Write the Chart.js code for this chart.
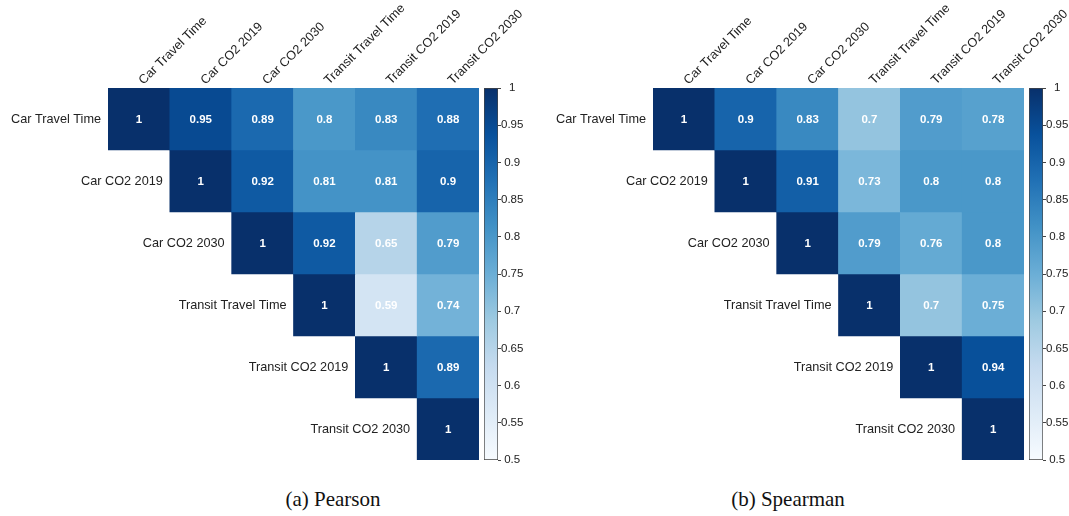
<!DOCTYPE html>
<html>
<head>
<meta charset="utf-8">
<script src="https://cdn.jsdelivr.net/npm/chart.js@4.4.1/dist/chart.umd.min.js"></script>
<style>
  body { margin: 0; background: #fff; }
  #page { position: relative; width: 1069px; height: 516px; overflow: hidden; }
  canvas { position: absolute; top: 0; }
  .caption {
    position: absolute; top: 487px; width: 200px; margin-left: -100px;
    text-align: center; font-family: "Liberation Serif", serif; font-size: 21px;
    line-height: 24px; color: #111;
  }
</style>
</head>
<body>
<div id="page">
  <canvas id="heat-a" width="540" height="470" style="left:0px"></canvas>
  <canvas id="bar-a" width="70" height="470" style="left:480px"></canvas>
  <canvas id="heat-b" width="540" height="470" style="left:545px"></canvas>
  <canvas id="bar-b" width="70" height="470" style="left:1025px"></canvas>
  <div class="caption" style="left:333px">(a) Pearson</div>
  <div class="caption" style="left:788px">(b) Spearman</div>
</div>
<script>
// variables (columns and rows)
const variables = ['Car Travel Time', 'Car CO2 2019', 'Car CO2 2030',
                   'Transit Travel Time', 'Transit CO2 2019', 'Transit CO2 2030'];

// upper triangle, row by row, starting at the diagonal
const pearson = [
    [1, 0.95, 0.89, 0.8, 0.83, 0.88],
    [1, 0.92, 0.81, 0.81, 0.9],
    [1, 0.92, 0.65, 0.79],
    [1, 0.59, 0.74],
    [1, 0.89],
    [1]
];

const spearman = [
    [1, 0.9, 0.83, 0.7, 0.79, 0.78],
    [1, 0.91, 0.73, 0.8, 0.8],
    [1, 0.79, 0.76, 0.8],
    [1, 0.7, 0.75],
    [1, 0.94],
    [1]
];

const colorTicks = [0.5, 0.55, 0.6, 0.65, 0.7, 0.75, 0.8, 0.85, 0.9, 0.95, 1];
const colorMin = 0.5;
const colorMax = 1;

// matplotlib "Blues"
const blues = ['#f7fbff', '#deebf7', '#c6dbef', '#9ecae1', '#6baed6',
               '#4292c6', '#2171b5', '#08519c', '#08306b'];

const FONT = '"Liberation Sans", Arial, sans-serif';
const TEXT = '#222';

function hexToRgb(h) {
    return [1, 3, 5].map(i => parseInt(h.substr(i, 2), 16));
}

function bluesColor(v) {
    let t = (v - colorMin) / (colorMax - colorMin);
    t = Math.max(0, Math.min(1, t));
    const pos = t * (blues.length - 1);
    const i = Math.min(Math.floor(pos), blues.length - 2);
    const f = pos - i;
    const a = hexToRgb(blues[i]);
    const b = hexToRgb(blues[i + 1]);
    const c = a.map((x, k) => Math.round(x + (b[k] - x) * f));
    return `rgb(${c[0]},${c[1]},${c[2]})`;
}

// writes the value in each cell and the row name left of the diagonal
const cellText = {
    id: 'cellText',
    afterDatasetsDraw(chart) {
        const ctx = chart.ctx;
        const xs = chart.scales.x;
        const ys = chart.scales.y;
        ctx.save();
        ctx.textAlign = 'center';
        ctx.textBaseline = 'middle';
        ctx.fillStyle = '#fff';
        ctx.font = `bold 11.5px ${FONT}`;
        chart.data.datasets.forEach((ds, di) => {
            chart.getDatasetMeta(di).data.forEach((el, i) => {
                const p = el.getCenterPoint();
                ctx.fillText(String(ds.data[i].v), p.x, p.y + 1);
            });
        });

        ctx.textAlign = 'right';
        ctx.fillStyle = TEXT;
        ctx.font = `12.7px ${FONT}`;
        const half = (xs.getPixelForValue(1) - xs.getPixelForValue(0)) / 2;
        variables.forEach((name, r) => {
            const x = xs.getPixelForValue(r) - half - 7;
            const y = ys.getPixelForValue(r + 0.5);
            ctx.fillText(name, x, y);
        });
        ctx.restore();
    }
};

function heatmap(canvasId, rows) {
    const datasets = rows.map((row, r) => ({
        data: row.map((v, k) => ({ x: variables[r + k], y: [r, r + 1], v: v })),
        backgroundColor: row.map(bluesColor),
        borderWidth: 0,
        barPercentage: 1,
        categoryPercentage: 1,
        grouped: false
    }));

    new Chart(document.getElementById(canvasId), {
        type: 'bar',
        data: { labels: variables, datasets: datasets },
        options: {
            responsive: false,
            animation: false,
            layout: { autoPadding: false, padding: { left: 108, right: 61, top: 0, bottom: 10 } },
            plugins: { legend: { display: false }, tooltip: { enabled: false } },
            scales: {
                x: {
                    position: 'top',
                    grid: { display: false, drawTicks: false },
                    border: { display: false },
                    ticks: {
                        minRotation: 45, maxRotation: 45, padding: 0, labelOffset: 13,
                        color: TEXT, font: { family: FONT, size: 12.7 }
                    },
                    afterFit(scale) { scale.height = 88; }
                },
                y: { display: false, min: 0, max: 6, reverse: true }
            }
        },
        plugins: [cellText]
    });
}

function colorbar(canvasId) {
    new Chart(document.getElementById(canvasId), {
        type: 'bar',
        data: {
            labels: ['cb'],
            datasets: [{
                data: [[colorMin, colorMax]],
                backgroundColor(context) {
                    const area = context.chart.chartArea;
                    if (!area) return blues[4];
                    const g = context.chart.ctx.createLinearGradient(0, area.bottom, 0, area.top);
                    blues.forEach((c, i) => g.addColorStop(i / (blues.length - 1), c));
                    return g;
                },
                borderColor: '#444',
                borderWidth: 1,
                borderSkipped: false,
                barPercentage: 1,
                categoryPercentage: 1
            }]
        },
        options: {
            responsive: false,
            animation: false,
            layout: { autoPadding: false, padding: { left: 4, right: 0, top: 88, bottom: 10 } },
            plugins: { legend: { display: false }, tooltip: { enabled: false } },
            scales: {
                x: { display: false },
                y: {
                    position: 'right',
                    min: colorMin, max: colorMax,
                    grid: { drawOnChartArea: false, drawTicks: true, tickLength: 3, color: '#444' },
                    border: { display: false },
                    afterBuildTicks(scale) { scale.ticks = colorTicks.map(v => ({ value: v })); },
                    ticks: {
                        autoSkip: false, padding: 0, crossAlign: 'center',
                        color: TEXT, font: { family: FONT, size: 11.5 },
                        callback: v => String(+v.toFixed(2))
                    },
                    afterFit(scale) { scale.width = 52; }
                }
            }
        }
    });
}

heatmap('heat-a', pearson);
colorbar('bar-a');
heatmap('heat-b', spearman);
colorbar('bar-b');
</script>
</body>
</html>
